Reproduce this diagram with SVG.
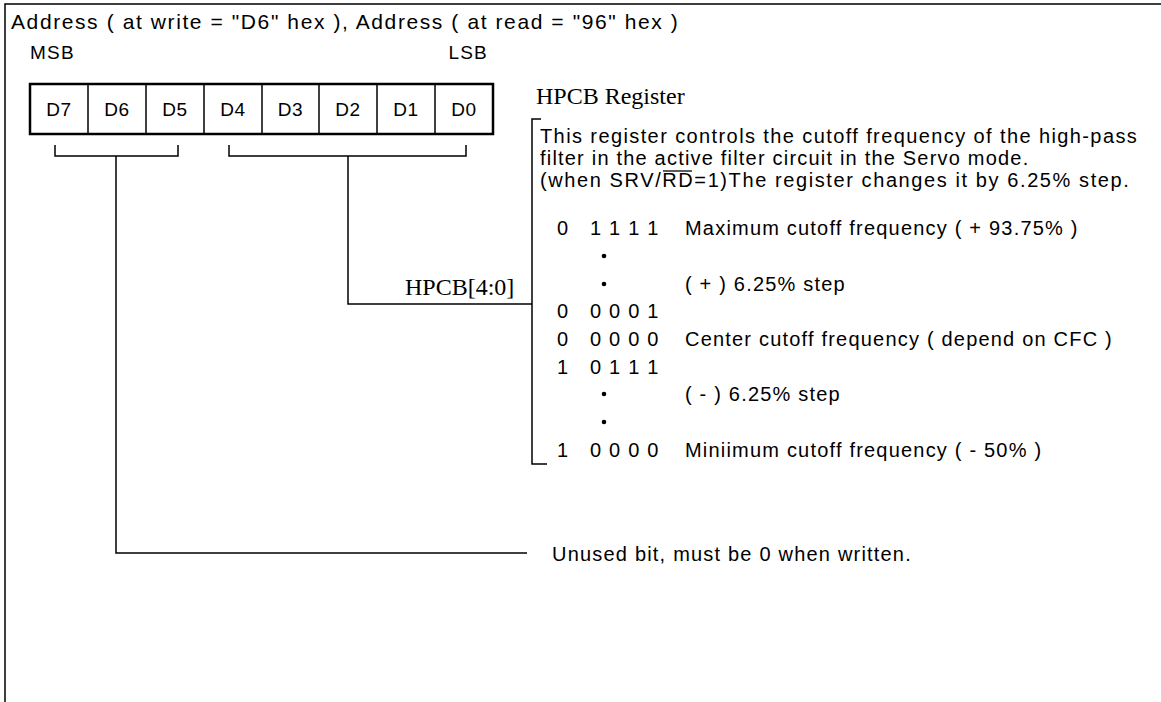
<svg xmlns="http://www.w3.org/2000/svg" width="1161" height="702" viewBox="0 0 1161 702">
<style>
.s{font-family:"Liberation Sans",Arial,sans-serif;fill:#000;font-size:20px;letter-spacing:1.2px}
.r{font-family:"Liberation Serif","Times New Roman",serif;fill:#000;font-size:24px}
.ln{fill:none;stroke:#000;stroke-width:1.5}
.bx{fill:#fff;stroke:#000;stroke-width:2.5}
.cd{stroke:#000;stroke-width:1.5}
</style>
<rect width="1161" height="702" fill="#fff"/>
<g id="frame">
<path class="ln" d="M5,702 V4 H1161" stroke-width="2"/>
</g>
<g id="header">
<text class="s" x="11" y="29" style="font-size:21px" textLength="668">Address ( at write = "D6" hex ), Address ( at read = "96" hex )</text>
<text class="s" x="30" y="59" style="font-size:19px">MSB</text>
<text class="s" x="488" y="59" style="font-size:19px" text-anchor="end">LSB</text>
</g>
<g id="register">
<rect class="bx" x="30" y="84" width="463" height="50"/>
<g class="cd">
<line x1="88" y1="84" x2="88" y2="134"/>
<line x1="146" y1="84" x2="146" y2="134"/>
<line x1="204" y1="84" x2="204" y2="134"/>
<line x1="262" y1="84" x2="262" y2="134"/>
<line x1="319" y1="84" x2="319" y2="134"/>
<line x1="377" y1="84" x2="377" y2="134"/>
<line x1="435" y1="84" x2="435" y2="134"/>
</g>
<g class="s" style="font-size:19px;letter-spacing:0.5px" text-anchor="middle">
<text x="59" y="116">D7</text>
<text x="117" y="116">D6</text>
<text x="175" y="116">D5</text>
<text x="233" y="116">D4</text>
<text x="290.5" y="116">D3</text>
<text x="348" y="116">D2</text>
<text x="406" y="116">D1</text>
<text x="464" y="116">D0</text>
</g>
</g>
<g id="connectors">
<path class="ln" d="M55,145 V156 H178 V145"/>
<path class="ln" d="M116,156 V553 H527"/>
<path class="ln" d="M229,145 V156 H466 V145"/>
<path class="ln" d="M348,156 V304 H532"/>
<path class="ln" d="M541,119 H532 V464 H547"/>
</g>
<g id="hpcb-label">
<text class="r" x="405" y="295">HPCB[4:0]</text>
</g>
<g id="hpcb-register">
<text class="r" x="536" y="104">HPCB Register</text>
<text class="s" x="540" y="143" textLength="598">This register controls the cutoff frequency of the high-pass</text>
<text class="s" x="540" y="165">filter in the active filter circuit in the Servo mode.</text>
<text class="s" x="540" y="187" textLength="590">(when SRV/RD=1)The register changes it by 6.25% step.</text>
<line x1="663" y1="171" x2="692" y2="171" stroke="#000" stroke-width="1.3"/>
</g>
<g id="table" class="s">
<text x="557" y="235">0</text><text x="590" y="235">1 1 1 1</text><text x="685" y="235">Maximum cutoff frequency ( + 93.75% )</text>
<circle cx="604" cy="256" r="2.3"/>
<circle cx="604" cy="284" r="2.3"/>
<text x="685" y="291">( + )  6.25% step</text>
<text x="557" y="318">0</text><text x="590" y="318">0 0 0 1</text>
<text x="557" y="346">0</text><text x="590" y="346">0 0 0 0</text><text x="685" y="346">Center cutoff frequency ( depend on CFC )</text>
<text x="557" y="374">1</text><text x="590" y="374">0 1 1 1</text>
<circle cx="604" cy="394" r="2.3"/>
<text x="685" y="401">( - )  6.25% step</text>
<circle cx="604" cy="422" r="2.3"/>
<text x="557" y="457">1</text><text x="590" y="457">0 0 0 0</text><text x="685" y="457">Miniimum cutoff frequency ( - 50% )</text>
</g>
<g id="unused-label">
<text class="s" x="552" y="561">Unused bit,  must be 0 when written.</text>
</g>
</svg>
